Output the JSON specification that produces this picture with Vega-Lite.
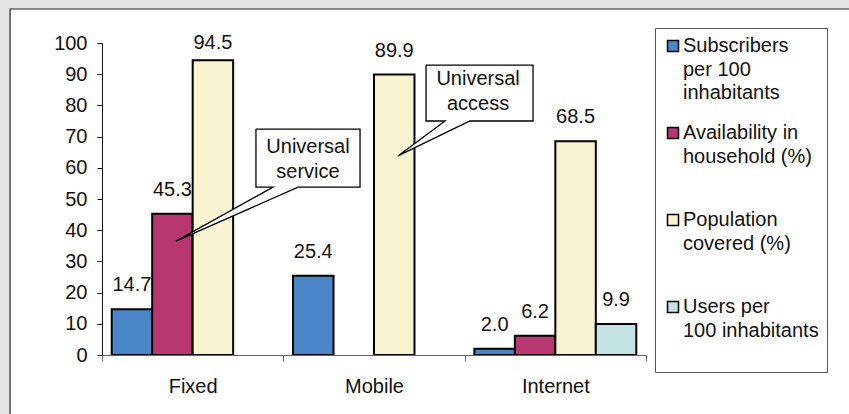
{
  "$schema": "https://vega.github.io/schema/vega-lite/v6.json",
  "autosize": {"type": "none"},
  "width": 544,
  "height": 312,
  "padding": {"left": 102, "top": 43, "right": 203, "bottom": 59},
  "background": "#e6e6e6",
  "config": {
    "font": "Liberation Sans",
    "view": {"stroke": null},
    "axis": {"grid": false, "labelFont": "Liberation Sans", "labelFontSize": 20, "labelColor": "#111"},
    "style": {"guide-label": {"lineHeight": 23.5}}
  },
  "datasets": {
    "bars": [
      {"cat": "Fixed", "series": "Subscribers per 100 inhabitants", "value": 14.7},
      {"cat": "Fixed", "series": "Availability in household (%)", "value": 45.3},
      {"cat": "Fixed", "series": "Population covered (%)", "value": 94.5},
      {"cat": "Mobile", "series": "Subscribers per 100 inhabitants", "value": 25.4},
      {"cat": "Mobile", "series": "Population covered (%)", "value": 89.9},
      {"cat": "Internet", "series": "Subscribers per 100 inhabitants", "value": 2.0},
      {"cat": "Internet", "series": "Availability in household (%)", "value": 6.2},
      {"cat": "Internet", "series": "Population covered (%)", "value": 68.5},
      {"cat": "Internet", "series": "Users per 100 inhabitants", "value": 9.9}
    ],
    "callouts": [
      {"c": "service", "o": 1, "x": 0.849, "y": 72.4},
      {"c": "service", "o": 2, "x": 1.423, "y": 72.4},
      {"c": "service", "o": 3, "x": 1.423, "y": 53.8},
      {"c": "service", "o": 4, "x": 1.081, "y": 53.8},
      {"c": "service", "o": 5, "x": 0.408, "y": 36.5},
      {"c": "service", "o": 6, "x": 0.943, "y": 53.8},
      {"c": "service", "o": 7, "x": 0.849, "y": 53.8},
      {"c": "service", "o": 8, "x": 0.849, "y": 72.4},
      {"c": "access", "o": 1, "x": 1.787, "y": 92.9},
      {"c": "access", "o": 2, "x": 2.377, "y": 92.9},
      {"c": "access", "o": 3, "x": 2.377, "y": 75.0},
      {"c": "access", "o": 4, "x": 2.029, "y": 75.0},
      {"c": "access", "o": 5, "x": 1.632, "y": 63.8},
      {"c": "access", "o": 6, "x": 1.892, "y": 75.0},
      {"c": "access", "o": 7, "x": 1.787, "y": 75.0},
      {"c": "access", "o": 8, "x": 1.787, "y": 92.9}
    ],
    "calloutText": [
      {"label": "Universal\nservice", "x": 1.136, "y": 66.7},
      {"label": "Universal\naccess", "x": 2.074, "y": 88.5}
    ],
    "panel": [
      {"x1": -0.507, "x2": 5, "y1": 110.9, "y2": -40}
    ]
  },
  "resolve": {"scale": {"x": "independent"}, "axis": {"x": "independent"}},
  "layer": [
    {
      "data": {"name": "panel"},
      "mark": {"type": "rect", "fill": "white", "stroke": "#222", "strokeWidth": 1.2, "clip": false},
      "encoding": {
        "x": {"field": "x1", "type": "quantitative", "scale": {"domain": [0, 3], "nice": false, "zero": false}, "axis": null},
        "x2": {"field": "x2"},
        "y": {"field": "y1", "type": "quantitative", "scale": {"domain": [0, 100], "nice": false},
          "axis": {"title": null, "zindex": 2, "values": [0, 10, 20, 30, 40, 50, 60, 70, 80, 90, 100], "tickSize": 5, "labelPadding": 10, "domainColor": "#111", "tickColor": "#111"}},
        "y2": {"field": "y2"}
      }
    },
    {
      "data": {"name": "bars"},
      "encoding": {
        "x": {
          "field": "cat", "type": "nominal", "sort": ["Fixed", "Mobile", "Internet"],
          "scale": {"paddingInner": 0, "paddingOuter": 0},
          "axis": {"title": null, "zindex": 2, "labelAngle": 0, "tickBand": "extent", "tickSize": 6, "labelPadding": 15, "domainColor": "#666", "tickColor": "#666", "labelBaseline": "top"}
        },
        "xOffset": {
          "field": "series", "type": "nominal",
          "scale": {"domain": ["Subscribers per 100 inhabitants", "Availability in household (%)", "Population covered (%)", "Users per 100 inhabitants"], "paddingInner": 0, "paddingOuter": 0.24}
        },
        "y": {
          "field": "value", "type": "quantitative",
          "scale": {"domain": [0, 100], "nice": false},
          "axis": {"title": null, "zindex": 2, "values": [0, 10, 20, 30, 40, 50, 60, 70, 80, 90, 100], "tickSize": 5, "labelPadding": 10, "domainColor": "#111", "tickColor": "#111"}
        }
      },
      "layer": [
        {
          "mark": {"type": "bar", "stroke": "black", "strokeWidth": 2},
          "encoding": {
            "fill": {
              "field": "series", "type": "nominal",
              "scale": {
                "domain": ["Subscribers per 100 inhabitants", "Availability in household (%)", "Population covered (%)", "Users per 100 inhabitants"],
                "range": ["#4a86c6", "#b83771", "#f8f4d2", "#c2e3e2"]
              },
              "legend": {
                "title": null,
                "orient": "none",
                "legendX": 553,
                "legendY": -15,
                "direction": "vertical",
                "strokeColor": "#555",
                "fillColor": "white",
                "padding": 8,
                "labelFontSize": 20,
                "labelFont": "Liberation Sans",
                "labelColor": "#111",
                "labelLimit": 0,
                "labelOffset": 0,
                "labelBaseline": "middle",
                "rowPadding": 20,
                "symbolType": "square",
                "symbolSize": 121,
                "symbolStrokeColor": "black",
                "symbolStrokeWidth": 1.5,
                "labelExpr": "datum.label == 'Subscribers per 100 inhabitants' ? ['Subscribers', 'per 100', 'inhabitants'] : datum.label == 'Availability in household (%)' ? ['Availability in', 'household (%)', ''] : datum.label == 'Population covered (%)' ? ['Population', 'covered (%)', ''] : ['Users per', '100 inhabitants', '']"
              }
            }
          }
        },
        {
          "transform": [{"filter": "datum.value <= 92"}],
          "mark": {"type": "text", "fontSize": 20, "dy": -24, "color": "#111", "baseline": "middle"},
          "encoding": {
            "text": {"field": "value", "type": "quantitative", "format": ".1f"}
          }
        },
        {
          "transform": [{"filter": "datum.value > 92"}],
          "mark": {"type": "text", "fontSize": 20, "dy": -17, "color": "#111", "baseline": "middle"},
          "encoding": {
            "text": {"field": "value", "type": "quantitative", "format": ".1f"}
          }
        }
      ]
    },
    {
      "data": {"name": "callouts"},
      "mark": {"type": "line", "filled": true, "stroke": "black", "strokeWidth": 1.3, "fill": "white", "clip": false},
      "encoding": {
        "x": {"field": "x", "type": "quantitative", "scale": {"domain": [0, 3], "nice": false, "zero": false}, "axis": null},
        "y": {"field": "y", "type": "quantitative", "scale": {"domain": [0, 100], "nice": false},
          "axis": {"title": null, "zindex": 2, "values": [0, 10, 20, 30, 40, 50, 60, 70, 80, 90, 100], "tickSize": 5, "labelPadding": 10, "domainColor": "#111", "tickColor": "#111"}},
        "detail": {"field": "c"},
        "order": {"field": "o", "type": "quantitative"}
      }
    },
    {
      "data": {"name": "calloutText"},
      "mark": {"type": "text", "fontSize": 20, "lineBreak": "\n", "lineHeight": 25, "color": "#111", "baseline": "middle"},
      "encoding": {
        "x": {"field": "x", "type": "quantitative", "scale": {"domain": [0, 3], "nice": false, "zero": false}, "axis": null},
        "y": {"field": "y", "type": "quantitative", "scale": {"domain": [0, 100], "nice": false},
          "axis": {"title": null, "zindex": 2, "values": [0, 10, 20, 30, 40, 50, 60, 70, 80, 90, 100], "tickSize": 5, "labelPadding": 10, "domainColor": "#111", "tickColor": "#111"}},
        "text": {"field": "label"}
      }
    }
  ]
}
